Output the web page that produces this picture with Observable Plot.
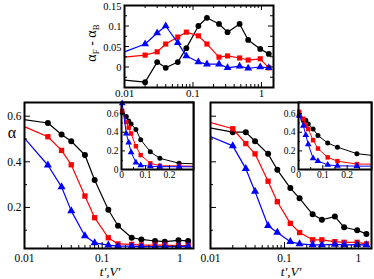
<!DOCTYPE html>
<html><head><meta charset="utf-8">
<script src="https://cdn.jsdelivr.net/npm/d3@7"></script>
<script src="https://cdn.jsdelivr.net/npm/@observablehq/plot@0.6"></script>
<style>
html,body{margin:0;padding:0;background:#fff;}
#chart{position:relative;width:374px;height:279px;overflow:hidden;background:#fff;}
#chart svg{position:absolute;left:0;top:0;overflow:visible;}
</style></head><body><div id="chart"></div>
<script>
// ---- data ----
const tTop = [0.01, 0.02, 0.03, 0.04, 0.06, 0.08, 0.12, 0.16, 0.24, 0.32, 0.48, 0.64, 0.96, 1.28];
const diffBlack = [-0.032, -0.037, 0.012, -0.002, 0.012, 0.046, 0.100, 0.120, 0.105, 0.085, 0.105, 0.066, 0.044, 0.032];
const diffRed   = [0.024, 0.029, 0.037, 0.056, 0.073, 0.085, 0.076, 0.056, 0.024, 0.027, 0.022, 0.017, 0.020, -0.002];
const diffBlue  = [0.037, 0.056, 0.083, 0.100, 0.059, 0.027, 0.012, 0.007, 0.007, -0.002, 0.002, -0.003, 0.000, -0.002];

const tMain = [0.003, 0.02, 0.03, 0.04, 0.06, 0.08, 0.12, 0.16, 0.24, 0.32, 0.48, 0.64, 0.96, 1.28];
const leftBlack = [0.61, 0.57, 0.52, 0.49, 0.43, 0.32, 0.19, 0.12, 0.067, 0.060, 0.053, 0.050, 0.056, 0.053];
const leftRed   = [0.63, 0.51, 0.45, 0.387, 0.25, 0.155, 0.067, 0.040, 0.038, 0.035, 0.035, 0.035, 0.033, 0.033];
const leftBlue  = [0.71, 0.385, 0.29, 0.185, 0.075, 0.045, 0.035, 0.030, 0.030, 0.028, 0.028, 0.028, 0.028, 0.030];
const rightBlack = [0.58, 0.53, 0.53, 0.49, 0.435, 0.365, 0.285, 0.24, 0.17, 0.146, 0.16, 0.113, 0.10, 0.084];
const rightRed   = [0.62, 0.545, 0.48, 0.435, 0.315, 0.225, 0.13, 0.09, 0.058, 0.058, 0.05, 0.047, 0.047, 0.04];
const rightBlue  = [0.58, 0.47, 0.37, 0.27, 0.12, 0.09, 0.05, 0.04, 0.036, 0.036, 0.038, 0.036, 0.037, 0.036];

const logMajor = [0.01, 0.1, 1];
const logMinor = [0.02, 0.03, 0.04, 0.05, 0.06, 0.07, 0.08, 0.09, 0.2, 0.3, 0.4, 0.5, 0.6, 0.7, 0.8, 0.9];
const diffMajor = [0, 0.05, 0.1, 0.15];
const diffMinor = [-0.025, 0.025, 0.075, 0.125];
const alphaMajor = [0.2, 0.4, 0.6];
const alphaMinor = [0.1, 0.3, 0.5];
const insetXMajor = [0, 0.1, 0.2];
const insetXMinor = [0.05, 0.15, 0.25];
const insetYMajor = [0, 0.2, 0.4, 0.6];
const insetYMinor = [0.1, 0.3, 0.5];

// ---- styling / layout ----
const W = 374, H = 279;
const FONT = "'Liberation Serif', 'Times New Roman', serif";
const colors = {black: "#000000", red: "#ff0000", blue: "#0000ff"};
const symbols = {black: "circle", red: "square", blue: "triangle"};
const order = ["black", "red", "blue"];

const boxTop   = {L: 124, R: 273, T: 5,   B: 87};
const boxLeft  = {L: 24,  R: 193, T: 102, B: 248};
const boxRight = {L: 210, R: 371, T: 102, B: 248};
const boxInL   = {L: 121, R: 193, T: 102, B: 169};
const boxInR   = {L: 298, R: 371, T: 102, B: 169};

function tickMarks(box, o) {
  const iw = box.R - box.L, ih = box.B - box.T;
  const sw = o.sw ?? 1;
  const m = [];
  const add = (vals, len, side) => {
    if (!vals || !vals.length) return;
    if (side === "bottom") m.push(Plot.tickX(vals, {x: d => d, insetTop: ih - len, strokeWidth: sw}));
    if (side === "top") m.push(Plot.tickX(vals, {x: d => d, insetBottom: ih - len, strokeWidth: sw}));
    if (side === "left") m.push(Plot.tickY(vals, {y: d => d, insetRight: iw - len, strokeWidth: sw}));
    if (side === "right") m.push(Plot.tickY(vals, {y: d => d, insetLeft: iw - len, strokeWidth: sw}));
  };
  for (const side of o.xSides) { add(o.xMaj, o.maj, side); add(o.xMin, o.min, side); }
  for (const side of o.ySides) { add(o.yMaj, o.maj, side); add(o.yMin, o.min, side); }
  return m;
}

function seriesMarks(xs, ys, o) {
  const out = [];
  for (const c of order) {
    const data = xs.map((x, i) => ({x, y: ys[c][i]}));
    out.push(Plot.line(data, {x: "x", y: "y", stroke: colors[c], strokeWidth: o.sw, clip: true}));
    const dd = o.dotFilter ? data.filter(o.dotFilter) : data;
    out.push(Plot.dot(dd, {x: "x", y: "y", fill: colors[c], stroke: "none", r: o.r, symbol: symbols[c], clip: o.dotClip}));
  }
  return out;
}

function panel(box, xScale, yScale, marks) {
  return Plot.plot({
    width: W, height: H,
    marginLeft: box.L, marginRight: W - box.R, marginTop: box.T, marginBottom: H - box.B,
    x: {...xScale, label: null},
    y: {...yScale, label: null},
    style: {background: "transparent", fontFamily: FONT, overflow: "visible"},
    marks
  });
}

const chart = document.getElementById("chart");
const fmt = d => String(d);
const axisOpts = (size, pad) => ({tickSize: 0, tickPadding: pad, tickFormat: fmt, fontSize: size, fontFamily: FONT, label: null});

// ---- top panel: alpha_F - alpha_B ----
const topSvg = panel(boxTop,
  {type: "log", domain: [0.01, 1.5]},
  {domain: [-0.05, 0.15]},
  [
    ...seriesMarks(tTop, {black: diffBlack, red: diffRed, blue: diffBlue}, {sw: 1.2, r: 2.9, dotFilter: d => d.x > 0.01, dotClip: false}),
    ...tickMarks(boxTop, {xMaj: logMajor, xMin: logMinor, yMaj: diffMajor, yMin: diffMinor, maj: 5, min: 3, xSides: ["bottom", "top"], ySides: ["left", "right"]}),
    Plot.axisX(logMajor, {anchor: "bottom", ...axisOpts(11, 2)}),
    Plot.axisY(diffMajor, {anchor: "left", ...axisOpts(10.5, 3), dy: 1}),
    Plot.frame({strokeWidth: 2})
  ]);
chart.appendChild(topSvg);
{
  const t = d3.select(topSvg).append("text")
    .attr("transform", "translate(96,43) rotate(-90)")
    .attr("text-anchor", "middle").attr("font-family", FONT).attr("font-size", 14).attr("fill", "#000");
  t.append("tspan").text("α");
  t.append("tspan").attr("font-size", 9).attr("dy", 3).text("F");
  t.append("tspan").attr("dy", -3).text(" - α");
  t.append("tspan").attr("font-size", 9).attr("dy", 3).text("B");
}

// ---- bottom-left main ----
const leftSvg = panel(boxLeft,
  {type: "log", domain: [0.01, 1.5]},
  {domain: [0.02, 0.66]},
  [
    ...seriesMarks(tMain, {black: leftBlack, red: leftRed, blue: leftBlue}, {sw: 1.2, r: 3, dotClip: true}),
    ...tickMarks(boxLeft, {xMaj: logMajor, xMin: logMinor, yMaj: alphaMajor, yMin: alphaMinor, maj: 6, min: 3, xSides: ["bottom"], ySides: ["left"]}),
    Plot.axisX(logMajor, {anchor: "bottom", ...axisOpts(11.5, 5)}),
    Plot.axisY(alphaMajor, {anchor: "left", ...axisOpts(11.5, 3)}),
    Plot.frame({strokeWidth: 2})
  ]);
chart.appendChild(leftSvg);
d3.select(leftSvg).append("text").attr("x", 12).attr("y", 138).attr("text-anchor", "middle")
  .attr("font-family", FONT).attr("font-size", 16).text("α");
d3.select(leftSvg).append("text").attr("x", 110).attr("y", 276).attr("text-anchor", "middle")
  .attr("font-family", FONT).attr("font-size", 13).attr("font-style", "italic").text("t',V'");

// ---- bottom-right main ----
const rightSvg = panel(boxRight,
  {type: "log", domain: [0.01, 1.5]},
  {domain: [0.02, 0.66], axis: null},
  [
    ...seriesMarks(tMain, {black: rightBlack, red: rightRed, blue: rightBlue}, {sw: 1.2, r: 3, dotClip: true}),
    ...tickMarks(boxRight, {xMaj: logMajor, xMin: logMinor, yMaj: alphaMajor, yMin: alphaMinor, maj: 6, min: 3, xSides: ["bottom"], ySides: ["left"]}),
    Plot.axisX(logMajor, {anchor: "bottom", ...axisOpts(11.5, 5)}),
    Plot.frame({strokeWidth: 2})
  ]);
chart.appendChild(rightSvg);
d3.select(rightSvg).append("text").attr("x", 291).attr("y", 276).attr("text-anchor", "middle")
  .attr("font-family", FONT).attr("font-size", 13).attr("font-style", "italic").text("t',V'");

// ---- insets ----
function inset(box, ys) {
  return panel(box,
    {type: "linear", domain: [0, 0.3]},
    {domain: [0, 0.72]},
    [
      Plot.frame({fill: "white", stroke: null}),
      ...seriesMarks(tMain, ys, {sw: 1, r: 2.5, dotFilter: d => d.x <= 0.3, dotClip: false}),
      ...tickMarks(box, {xMaj: insetXMajor, xMin: insetXMinor, yMaj: insetYMajor, yMin: insetYMinor, maj: 4, min: 2, xSides: ["bottom"], ySides: ["left"]}),
      Plot.axisX(insetXMajor, {anchor: "bottom", ...axisOpts(9.5, 2)}),
      Plot.axisY(insetYMajor, {anchor: "left", ...axisOpts(9.5, 3)}),
      Plot.frame({strokeWidth: 2})
    ]);
}
chart.appendChild(inset(boxInL, {black: leftBlack, red: leftRed, blue: leftBlue}));
chart.appendChild(inset(boxInR, {black: rightBlack, red: rightRed, blue: rightBlue}));
</script></body></html>
